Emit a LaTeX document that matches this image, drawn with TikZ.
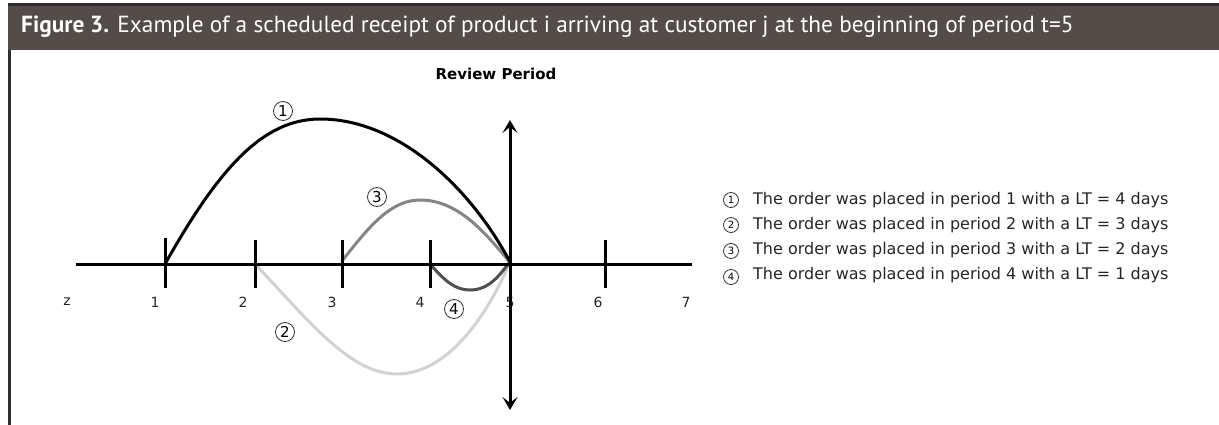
\documentclass[tikz,border=0pt]{standalone}
\usepackage{fontspec}
\setmainfont{DejaVu Sans}
\newfontfamily\titlefont{PT Sans}
\usetikzlibrary{arrows.meta}
\definecolor{barbg}{HTML}{544C48}
\definecolor{edgegray}{HTML}{2E2E2E}
\definecolor{gthree}{HTML}{858585}
\definecolor{gfour}{HTML}{505050}
\definecolor{gtwo}{HTML}{D2D2D2}
\tikzset{
  axisline/.style={line width=3pt, black},
  tickmark/.style={line width=3pt, black},
  curveline/.style={line width=3pt, line cap=round},
  ticklabel/.style={font=\fontsize{14}{14}\selectfont, text=black!85, inner sep=0pt},
  circnum/.style={circle, draw=black!80, line width=0.8pt, minimum size=19pt, inner sep=0pt, font=\fontsize{15}{15}\selectfont},
  legcirc/.style={circle, draw=black!80, line width=0.8pt, minimum size=15pt, inner sep=0pt, font=\fontsize{10}{10}\selectfont},
  legtext/.style={anchor=west, inner sep=0pt, font=\fontsize{16}{16}\selectfont, text=black!85},
}
\begin{document}
\begin{tikzpicture}[x=1pt, y=-1pt]
\useasboundingbox (0,0) rectangle (1219,425);
\fill[white] (0,0) rectangle (1219,425);
% title bar
\fill[barbg] (8,5) rectangle (1219,50);
\fill[edgegray] (8,3.5) rectangle (1219,6);
\fill[edgegray] (8,50) rectangle (10.5,425);
\node[anchor=west, text=white, inner sep=0pt, font=\titlefont\fontsize{23.3}{23.3}\selectfont] (title) at (21,27)
  {\textbf{Figure 3.} Example of a scheduled receipt of product i arriving at customer j at the beginning of period t=5};
% axis
\coordinate (axL) at (76,264);
\coordinate (axR) at (692,264);
\coordinate (t1) at (165,264);
\coordinate (t2) at (255,264);
\coordinate (t3) at (342,264);
\coordinate (t4) at (430,264);
\coordinate (t5) at (510,262);
\coordinate (t6) at (605,264);
\coordinate (vtop) at (510,120);
\coordinate (vbot) at (510,410);
% tick labels
\node[ticklabel] (lz) at (67,302) {z};
\node[ticklabel] (l1) at (155,302) {1};
\node[ticklabel] (l2) at (243,302) {2};
\node[ticklabel] (l3) at (332,302) {3};
\node[ticklabel] (l4) at (420,302) {4};
\node[ticklabel] (l5) at (510,302) {5};
\node[ticklabel] (l6) at (598,302) {6};
\node[ticklabel] (l7) at (686,302) {7};
% curves
\draw[curveline, gtwo] (t2) .. controls (310,322) and (350,374) .. (397,374)
   .. controls (452,374) and (492,305) .. (t5);
\draw[curveline, gthree] (342,261) .. controls (368,228) and (390,200) .. (420,200)
   .. controls (462,200) and (490,240) .. (t5);
\draw[curveline, gfour] (t4) .. controls (445,281) and (455,290) .. (470,290)
   .. controls (490,290) and (500,274) .. (t5);
\draw[curveline, black] (t1) .. controls (218,170) and (262,119) .. (320,119)
   .. controls (400,119) and (472,190) .. (t5);
\draw[axisline] (axL) -- (axR);
\foreach \n/\y in {t1/238, t2/240, t3/240, t4/240, t6/240}
  \draw[tickmark] (\n) ++(0,{\y-264}) -- ++(0,{288-\y});
\draw[line width=3pt, {Stealth[length=13pt,width=15pt,inset=6pt]}-{Stealth[length=13pt,width=15pt,inset=6pt]}] (vtop) -- (vbot);
% review period
\node[inner sep=0pt, font=\bfseries\fontsize{15}{15}\selectfont] (review) at (496,74) {Review Period};
% circled numbers
\node[circnum, fill=white] (c1) at (283,111) {1};
\node[circnum, fill=white] (c3) at (377,197) {3};
\node[circnum, fill=white] (c2) at (285,332) {2};
\node[circnum, fill=white] (c4) at (454,309) {4};
% legend
\node[legcirc] (k1) at (731,200) {1};
\node[legcirc] (k2) at (731,225) {2};
\node[legcirc] (k3) at (731,251) {3};
\node[legcirc] (k4) at (731,277) {4};
\node[legtext] (e1) at (753,200) {The order was placed in period 1 with a LT = 4 days};
\node[legtext] (e2) at (753,225) {The order was placed in period 2 with a LT = 3 days};
\node[legtext] (e3) at (753,250) {The order was placed in period 3 with a LT = 2 days};
\node[legtext] (e4) at (753,275) {The order was placed in period 4 with a LT = 1 days};
\end{tikzpicture}
\end{document}
